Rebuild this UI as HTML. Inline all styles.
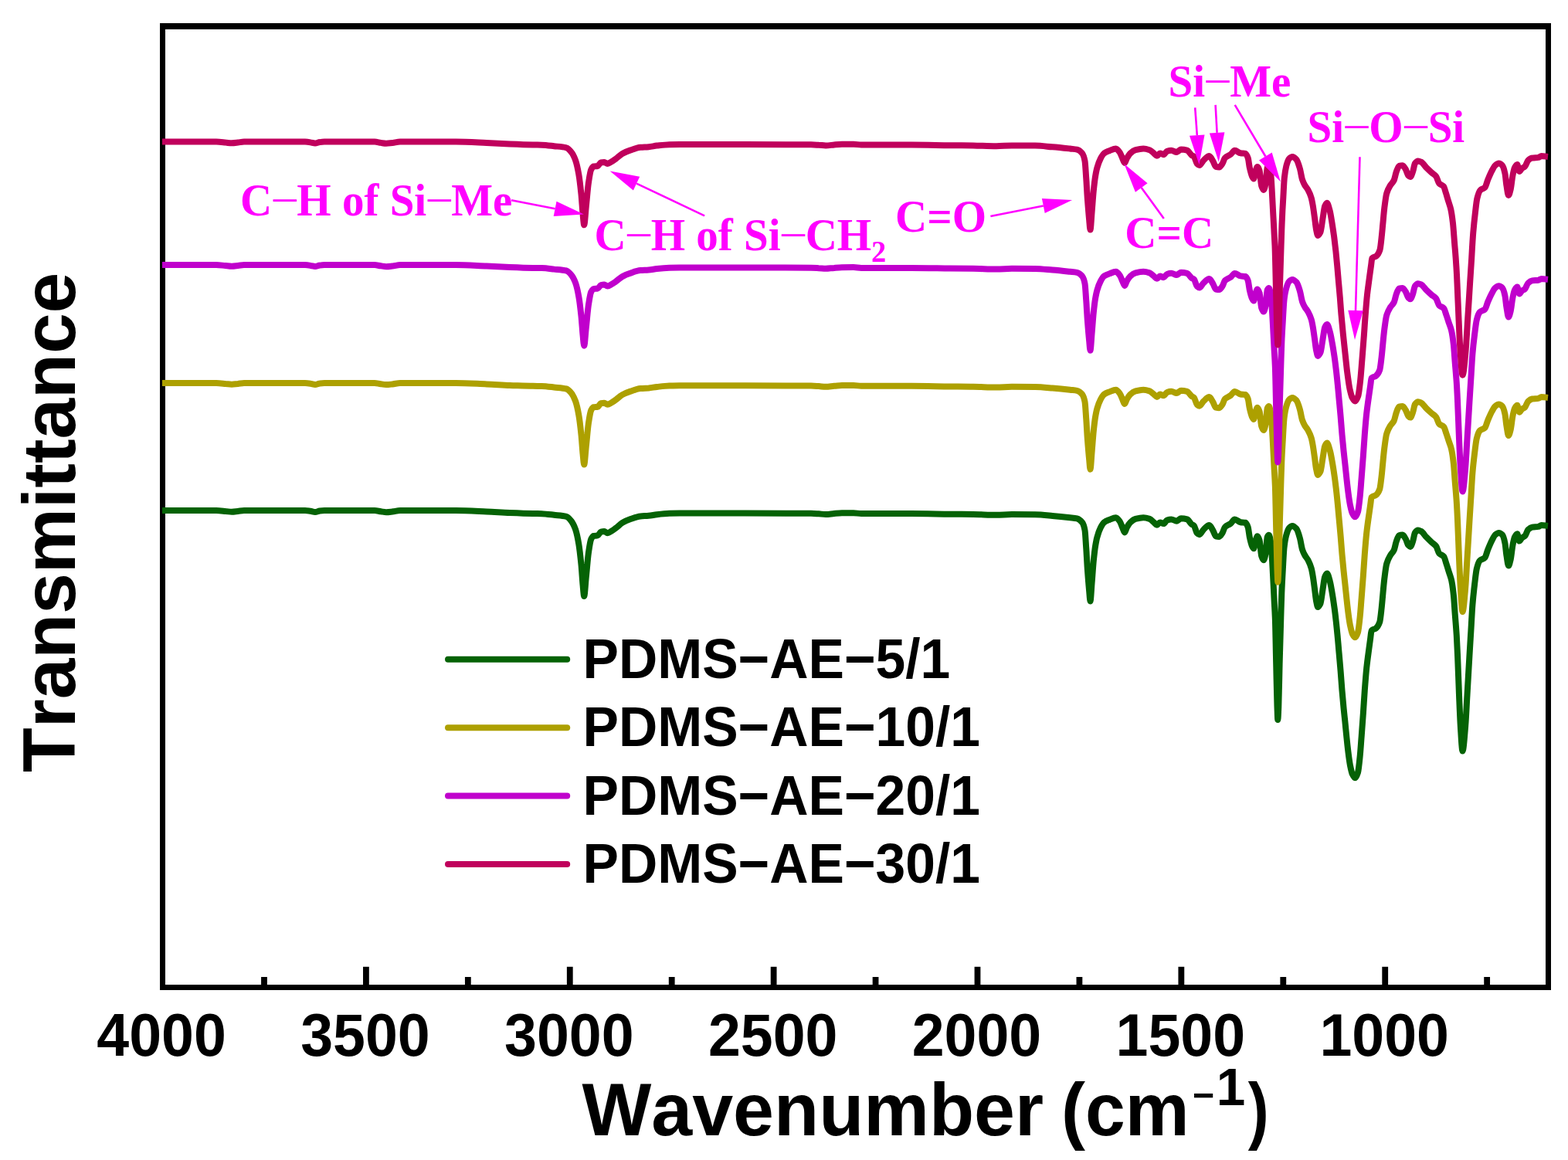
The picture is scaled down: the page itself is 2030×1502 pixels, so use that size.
<!DOCTYPE html>
<html lang="en"><head><meta charset="utf-8"><title>FTIR spectra of PDMS-AE</title>
<style>html,body{margin:0;padding:0;background:#fff}body{width:2030px;height:1502px;overflow:hidden}svg{display:block}</style>
</head><body>
<svg width="2030" height="1502" viewBox="0 0 2030 1502">
<rect x="0" y="0" width="2030" height="1502" fill="#fff"/>
<path fill="#000" fill-rule="evenodd" d="M207,30H2008V1282.1H207Z M214,38H2001V1275.1H214Z"/>
<g fill="#000">
<rect x="470.01" y="1251.8" width="7.8" height="25"/>
<rect x="733.87" y="1251.8" width="7.8" height="25"/>
<rect x="997.73" y="1251.8" width="7.8" height="25"/>
<rect x="1261.59" y="1251.8" width="7.8" height="25"/>
<rect x="1525.45" y="1251.8" width="7.8" height="25"/>
<rect x="1789.31" y="1251.8" width="7.8" height="25"/>
<rect x="338.08" y="1265" width="7.8" height="12"/>
<rect x="601.94" y="1265" width="7.8" height="12"/>
<rect x="865.80" y="1265" width="7.8" height="12"/>
<rect x="1129.66" y="1265" width="7.8" height="12"/>
<rect x="1393.52" y="1265" width="7.8" height="12"/>
<rect x="1657.38" y="1265" width="7.8" height="12"/>
<rect x="1921.24" y="1265" width="7.8" height="12"/>
</g>
<defs><clipPath id="clip"><rect x="210" y="34" width="1795.5" height="1244"/></clipPath></defs>
<g clip-path="url(#clip)" fill="none" stroke-width="8" stroke-linejoin="round" stroke-linecap="butt">
<path d="M210.0,661.0C233.3,661.0 256.7,661.0 280.0,661.0C284.0,661.0 288.0,661.6 292.0,662.0C294.7,662.2 297.3,662.8 300.0,662.8C302.7,662.8 305.3,662.3 308.0,662.0C310.7,661.7 313.3,661.0 316.0,661.0C342.3,661.0 368.7,661.0 395.0,661.0C397.3,661.0 399.7,661.5 402.0,661.8C404.0,662.1 406.0,663.0 408.0,663.0C410.0,663.0 412.0,661.8 414.0,661.5C416.0,661.2 418.0,661.0 420.0,661.0C441.7,661.0 463.3,661.0 485.0,661.0C487.7,661.0 490.3,661.9 493.0,662.3C495.3,662.6 497.7,663.2 500.0,663.2C502.7,663.2 505.3,662.8 508.0,662.5C511.3,662.1 514.7,661.0 518.0,661.0C542.0,661.0 566.0,661.0 590.0,661.0C603.3,661.0 616.7,661.9 630.0,662.5C640.0,662.9 650.0,663.6 660.0,664.0C670.0,664.4 680.0,664.8 690.0,665.0C693.8,665.1 697.5,665.1 701.3,665.2C706.6,665.4 712.0,666.2 717.3,666.8C722.6,667.4 728.0,667.5 733.3,668.9C735.4,669.4 737.6,672.1 739.7,674.8C741.5,677.1 743.2,680.5 745.0,685.4C746.4,689.4 747.9,696.1 749.3,704.6C750.4,710.9 751.4,720.3 752.5,731.2C753.2,738.3 753.9,750.7 754.6,757.9C755.1,763.4 755.7,772.0 756.2,772.0C757.1,772.0 757.9,755.7 758.8,747.2C759.9,736.8 760.9,722.6 762.0,715.2C763.1,707.8 764.1,700.5 765.2,698.2C766.3,695.9 767.3,694.1 768.4,693.9C770.2,693.6 772.0,693.7 773.8,693.4C775.2,693.2 776.6,688.9 778.0,688.6C779.4,688.3 780.9,688.1 782.3,688.1C783.7,688.1 785.1,690.2 786.5,690.2C788.3,690.2 790.1,688.5 791.9,687.5C793.7,686.5 795.4,685.1 797.2,683.8C800.0,681.7 802.9,678.6 805.7,676.9C809.3,674.8 812.8,673.4 816.4,672.1C820.7,670.6 824.9,668.8 829.2,668.4C832.7,668.1 836.3,668.1 839.8,667.8C843.4,667.5 846.9,666.6 850.5,666.2C855.8,665.6 861.2,665.0 866.5,664.8C871.0,664.6 875.5,664.5 880.0,664.5C936.7,664.5 993.3,664.5 1050.0,664.8C1053.3,664.8 1056.7,665.1 1060.0,665.3C1063.0,665.5 1066.0,666.0 1069.0,666.0C1072.7,666.0 1076.3,665.3 1080.0,665.0C1083.3,664.7 1086.7,664.3 1090.0,664.3C1095.0,664.2 1100.0,664.2 1105.0,664.2C1108.3,664.2 1111.7,665.0 1115.0,665.0C1136.7,665.0 1158.3,665.0 1180.0,665.0C1196.7,665.0 1213.3,665.5 1230.0,665.7C1240.0,665.8 1250.0,665.9 1260.0,666.0C1270.0,666.1 1280.0,666.8 1290.0,666.8C1296.7,666.8 1303.3,666.0 1310.0,666.0C1320.0,666.0 1330.0,666.1 1340.0,666.2C1347.5,666.3 1355.1,667.2 1362.6,667.9C1370.2,668.6 1377.7,669.4 1385.3,670.2C1388.3,670.5 1391.3,670.6 1394.3,671.3C1396.6,671.8 1398.8,673.5 1401.1,676.4C1402.2,677.9 1403.4,680.6 1404.5,686.6C1405.1,689.6 1405.6,700.8 1406.2,709.2C1406.8,717.6 1407.3,729.4 1407.9,737.5C1408.7,748.4 1409.4,757.5 1410.2,765.8C1410.6,770.5 1411.1,778.5 1411.5,778.5C1412.2,778.5 1412.9,763.0 1413.6,754.5C1414.3,745.6 1415.1,733.6 1415.8,726.2C1416.6,718.4 1417.3,711.8 1418.1,707.0C1418.9,702.2 1419.6,698.4 1420.4,695.6C1421.9,690.1 1423.4,686.1 1424.9,683.2C1426.4,680.3 1427.9,677.6 1429.4,676.4C1431.7,674.6 1433.9,673.9 1436.2,673.0C1439.0,671.9 1441.9,670.2 1444.7,670.2C1446.4,670.2 1448.1,672.9 1449.8,675.3C1450.9,676.9 1452.1,680.6 1453.2,683.2C1454.1,685.3 1455.1,689.4 1456.0,689.4C1456.9,689.4 1457.9,684.9 1458.8,683.2C1460.3,680.4 1461.9,677.8 1463.4,676.4C1465.6,674.3 1467.9,672.5 1470.1,671.9C1473.5,671.0 1476.9,670.2 1480.3,670.2C1483.0,670.2 1485.6,671.0 1488.3,671.9C1490.2,672.5 1492.0,674.9 1493.9,676.4C1495.2,677.5 1496.6,679.8 1497.9,679.8C1499.2,679.8 1500.5,676.4 1501.8,676.4C1503.3,676.4 1504.9,678.1 1506.4,678.1C1507.9,678.1 1509.4,674.1 1510.9,673.6C1512.8,672.9 1514.6,672.4 1516.5,672.4C1518.8,672.4 1521.0,674.7 1523.3,674.7C1525.2,674.7 1527.1,671.3 1529.0,671.3C1531.6,671.3 1534.3,671.7 1536.9,672.4C1538.8,672.9 1540.7,677.1 1542.6,678.7C1543.7,679.6 1544.9,679.8 1546.0,681.0C1547.2,682.3 1548.4,688.9 1549.6,690.1C1550.7,691.2 1551.7,692.2 1552.8,692.2C1554.6,692.2 1556.3,687.5 1558.1,685.8C1560.6,683.4 1563.1,680.0 1565.6,680.0C1567.2,680.0 1568.8,684.2 1570.4,686.9C1571.6,689.0 1572.9,694.0 1574.1,694.3C1575.5,694.7 1577.0,694.9 1578.4,694.9C1579.8,694.9 1581.2,692.3 1582.6,690.1C1583.7,688.4 1584.7,683.8 1585.8,682.6C1588.3,679.9 1590.8,679.8 1593.3,677.8C1595.1,676.4 1596.8,672.5 1598.6,672.5C1601.1,672.5 1603.6,675.8 1606.1,676.2C1608.2,676.5 1610.4,676.4 1612.5,676.8C1613.6,677.0 1614.6,679.5 1615.7,682.6C1616.4,684.6 1617.1,692.1 1617.8,695.4C1618.9,700.4 1619.9,704.9 1621.0,707.1C1621.7,708.6 1622.4,710.3 1623.1,710.3C1623.8,710.3 1624.5,704.1 1625.2,701.8C1626.1,698.8 1627.0,694.3 1627.9,694.3C1628.8,694.3 1629.7,696.8 1630.6,699.7C1631.5,702.5 1632.3,717.2 1633.2,719.9C1634.1,722.7 1635.0,725.2 1635.9,725.2C1636.8,725.2 1637.7,721.1 1638.6,716.7C1639.3,713.3 1640.0,697.0 1640.7,695.4C1641.4,693.8 1642.1,692.7 1642.8,692.7C1643.7,692.7 1644.6,697.9 1645.5,703.9C1646.2,708.6 1646.9,723.7 1647.6,735.9C1648.3,748.1 1649.0,764.7 1649.7,778.5C1650.1,785.7 1650.4,790.2 1650.8,799.8C1651.3,812.1 1651.7,840.1 1652.2,860.0C1652.6,878.5 1653.1,903.1 1653.5,915.0C1653.8,922.4 1654.0,932.0 1654.3,932.0C1654.6,932.0 1655.0,922.9 1655.3,915.0C1655.7,904.7 1656.2,876.8 1656.6,860.0C1657.2,838.1 1657.7,818.7 1658.3,799.8C1658.6,788.7 1659.0,776.2 1659.3,767.9C1659.8,754.6 1660.4,745.6 1660.9,735.9C1661.4,726.2 1662.0,714.2 1662.5,709.3C1663.4,701.1 1664.3,696.6 1665.2,693.3C1666.4,688.8 1667.7,685.0 1668.9,683.7C1670.3,682.2 1671.8,681.0 1673.2,681.0C1675.0,681.0 1676.7,682.8 1678.5,684.8C1679.9,686.5 1681.4,691.5 1682.8,696.5C1683.9,700.2 1684.9,708.1 1686.0,711.4C1687.1,714.7 1688.1,716.8 1689.2,718.8C1690.6,721.4 1692.0,722.6 1693.4,725.2C1694.8,727.9 1696.3,730.9 1697.7,735.9C1698.4,738.3 1699.1,742.4 1699.8,746.6C1700.5,751.0 1701.3,757.1 1702.0,762.5C1702.7,767.7 1703.4,775.1 1704.1,778.5C1704.8,781.9 1705.5,786.0 1706.2,786.0C1707.3,786.0 1708.3,784.0 1709.4,781.7C1710.5,779.4 1711.5,768.9 1712.6,762.5C1713.5,757.3 1714.3,748.9 1715.2,746.8C1716.1,744.5 1717.1,742.5 1718.0,742.5C1719.3,742.5 1720.6,748.4 1721.9,753.2C1722.9,756.8 1723.8,762.9 1724.8,768.6C1725.8,774.3 1726.7,780.7 1727.7,787.9C1728.5,793.6 1729.2,800.1 1730.0,807.2C1730.6,813.0 1731.3,819.7 1731.9,826.5C1732.5,832.6 1733.0,839.4 1733.6,845.9C1734.3,853.6 1734.9,860.8 1735.6,869.0C1736.2,876.8 1736.9,886.5 1737.5,894.1C1738.2,902.5 1738.9,910.1 1739.6,917.3C1740.2,923.5 1740.8,928.8 1741.4,934.7C1742.1,941.6 1742.8,949.2 1743.5,955.9C1744.1,962.0 1744.8,968.3 1745.4,973.3C1746.2,979.9 1747.1,986.4 1747.9,990.7C1748.9,995.6 1749.8,1000.2 1750.8,1002.3C1752.0,1004.8 1753.1,1007.3 1754.3,1007.3C1755.5,1007.3 1756.8,1004.2 1758.0,1000.3C1758.8,997.7 1759.7,989.0 1760.5,981.0C1761.3,973.6 1762.0,962.1 1762.8,952.0C1763.5,942.8 1764.2,933.2 1764.9,923.1C1765.5,913.9 1766.2,902.7 1766.8,894.1C1767.6,883.3 1768.4,872.9 1769.2,865.2C1770.2,855.8 1771.1,849.4 1772.1,842.0C1772.8,836.6 1773.5,831.6 1774.2,826.5C1774.7,823.1 1775.1,817.0 1775.6,816.5C1777.5,814.3 1779.4,815.1 1781.3,813.6C1782.9,812.3 1784.6,810.2 1786.2,805.5C1787.0,803.2 1787.8,794.9 1788.6,787.9C1789.2,782.6 1789.8,774.9 1790.4,768.6C1791.0,762.0 1791.7,754.5 1792.3,749.3C1793.3,741.4 1794.2,733.4 1795.2,730.0C1796.8,724.4 1798.3,721.9 1799.9,719.2C1801.5,716.5 1803.0,715.9 1804.6,712.6C1805.7,710.3 1806.8,703.6 1807.9,700.6C1809.0,697.5 1810.2,693.6 1811.3,693.3C1812.8,692.8 1814.4,692.6 1815.9,692.6C1817.2,692.6 1818.6,695.6 1819.9,697.9C1821.0,699.8 1822.1,704.7 1823.2,705.9C1824.1,706.9 1825.0,707.9 1825.9,707.9C1827.0,707.9 1828.1,703.8 1829.2,700.6C1830.1,698.0 1831.0,691.2 1831.9,689.9C1833.2,688.0 1834.6,686.6 1835.9,686.6C1837.2,686.6 1838.6,687.3 1839.9,687.9C1842.1,689.0 1844.3,693.0 1846.5,695.3C1848.7,697.6 1851.0,699.8 1853.2,701.9C1855.2,703.8 1857.2,704.6 1859.2,707.2C1860.5,709.0 1861.9,715.2 1863.2,716.6C1865.2,718.8 1867.2,718.3 1869.2,720.6C1870.3,721.9 1871.4,726.6 1872.5,729.9C1873.6,733.2 1874.7,737.0 1875.8,740.5C1876.9,744.0 1878.0,746.3 1879.1,751.2C1880.0,755.2 1880.9,761.5 1881.8,769.8C1882.5,775.9 1883.1,787.5 1883.8,796.4C1884.5,805.3 1885.1,812.2 1885.8,823.1C1886.2,830.2 1886.7,839.8 1887.1,849.7C1887.7,864.2 1888.4,884.8 1889.0,900.0C1889.6,914.4 1890.2,930.1 1890.8,939.7C1891.7,954.1 1892.6,972.5 1893.5,972.5C1894.7,972.5 1896.0,954.5 1897.2,939.7C1898.0,930.5 1898.7,913.3 1899.5,900.0C1900.5,883.3 1901.4,866.1 1902.4,849.7C1903.1,838.4 1903.7,827.5 1904.4,816.4C1905.1,805.3 1905.7,791.5 1906.4,783.1C1907.3,771.8 1908.2,764.1 1909.1,756.5C1910.0,748.9 1910.9,740.1 1911.8,736.5C1913.1,731.1 1914.5,727.3 1915.8,725.9C1918.0,723.6 1920.2,724.2 1922.4,721.9C1923.7,720.5 1925.1,714.5 1926.4,711.2C1928.2,706.9 1929.9,702.7 1931.7,699.3C1933.0,696.8 1934.4,693.8 1935.7,692.6C1937.3,691.2 1938.8,689.9 1940.4,689.9C1941.9,689.9 1943.5,691.0 1945.0,692.6C1946.1,693.8 1947.3,697.9 1948.4,703.2C1949.1,706.3 1949.7,715.0 1950.4,719.2C1951.3,724.7 1952.1,732.5 1953.0,732.5C1953.9,732.5 1954.8,728.2 1955.7,724.5C1956.6,720.8 1957.5,710.5 1958.4,705.9C1959.3,701.5 1960.1,697.0 1961.0,695.3C1962.1,693.2 1963.2,691.3 1964.3,691.3C1965.2,691.3 1966.1,700.6 1967.0,700.6C1968.1,700.6 1969.2,697.6 1970.3,696.6C1971.6,695.4 1973.0,695.2 1974.3,693.9C1975.6,692.6 1977.0,687.2 1978.3,685.9C1980.1,684.2 1981.8,682.9 1983.6,682.6C1986.3,682.2 1988.9,682.3 1991.6,681.9C1992.9,681.7 1994.3,679.9 1995.6,679.9C1998.4,679.9 2001.2,680.6 2004.0,680.9" stroke="#056205"/>
<path d="M210.0,496.0C233.3,496.0 256.7,496.0 280.0,496.0C284.0,496.0 288.0,496.6 292.0,497.0C294.7,497.2 297.3,497.7 300.0,497.7C302.7,497.7 305.3,497.2 308.0,497.0C310.7,496.7 313.3,496.0 316.0,496.0C342.3,496.0 368.7,496.0 395.0,496.0C397.3,496.0 399.7,496.4 402.0,496.8C404.0,497.0 406.0,497.9 408.0,497.9C410.0,497.9 412.0,496.7 414.0,496.5C416.0,496.2 418.0,496.0 420.0,496.0C441.7,496.0 463.3,496.0 485.0,496.0C487.7,496.0 490.3,496.9 493.0,497.2C495.3,497.6 497.7,498.1 500.0,498.1C502.7,498.1 505.3,497.7 508.0,497.4C511.3,497.1 514.7,496.0 518.0,496.0C542.0,496.0 566.0,496.0 590.0,496.0C603.3,496.0 616.7,496.9 630.0,497.4C640.0,497.8 650.0,498.5 660.0,498.9C670.0,499.2 680.0,499.6 690.0,499.8C693.8,499.9 697.5,499.9 701.3,500.0C706.6,500.1 712.0,500.9 717.3,501.5C722.6,502.1 728.0,502.2 733.3,503.5C735.4,504.0 737.6,506.5 739.7,509.1C741.5,511.3 743.2,514.5 745.0,519.2C746.4,523.0 747.9,529.4 749.3,537.5C750.4,543.4 751.4,552.4 752.5,562.8C753.2,569.6 753.9,581.3 754.6,588.2C755.1,593.4 755.7,601.6 756.2,601.6C757.1,601.6 757.9,586.0 758.8,578.0C759.9,568.1 760.9,554.6 762.0,547.5C763.1,540.5 764.1,533.6 765.2,531.4C766.3,529.2 767.3,527.5 768.4,527.3C770.2,527.0 772.0,527.1 773.8,526.8C775.2,526.6 776.6,522.5 778.0,522.2C779.4,522.0 780.9,521.8 782.3,521.8C783.7,521.8 785.1,523.8 786.5,523.8C788.3,523.8 790.1,522.2 791.9,521.2C793.7,520.2 795.4,518.9 797.2,517.7C800.0,515.7 802.9,512.7 805.7,511.1C809.3,509.1 812.8,507.8 816.4,506.6C820.7,505.1 824.9,503.4 829.2,503.0C832.7,502.7 836.3,502.7 839.8,502.5C843.4,502.2 846.9,501.3 850.5,500.9C855.8,500.4 861.2,499.8 866.5,499.6C871.0,499.5 875.5,499.3 880.0,499.3C936.7,499.3 993.3,499.4 1050.0,499.6C1053.3,499.6 1056.7,499.9 1060.0,500.1C1063.0,500.3 1066.0,500.8 1069.0,500.8C1072.7,500.8 1076.3,500.1 1080.0,499.8C1083.3,499.6 1086.7,499.2 1090.0,499.1C1095.0,499.1 1100.0,499.0 1105.0,499.0C1108.3,499.0 1111.7,499.8 1115.0,499.8C1136.7,499.8 1158.3,499.8 1180.0,499.8C1196.7,499.8 1213.3,500.3 1230.0,500.5C1240.0,500.6 1250.0,500.6 1260.0,500.8C1270.0,500.9 1280.0,501.5 1290.0,501.5C1296.7,501.5 1303.3,500.8 1310.0,500.8C1320.0,500.8 1330.0,500.8 1340.0,500.9C1347.5,501.0 1355.1,501.9 1362.6,502.6C1370.2,503.2 1377.7,503.9 1385.3,504.7C1388.3,505.1 1391.3,505.2 1394.3,505.8C1396.6,506.3 1398.8,507.9 1401.1,510.6C1402.2,512.0 1403.4,514.7 1404.5,520.3C1405.1,523.2 1405.6,533.9 1406.2,541.8C1406.8,549.8 1407.3,561.1 1407.9,568.8C1408.7,579.1 1409.4,587.8 1410.2,595.7C1410.6,600.1 1411.1,607.7 1411.5,607.7C1412.2,607.7 1412.9,593.0 1413.6,584.9C1414.3,576.5 1415.1,565.1 1415.8,558.0C1416.6,550.6 1417.3,544.3 1418.1,539.7C1418.9,535.2 1419.6,531.6 1420.4,528.9C1421.9,523.7 1423.4,519.9 1424.9,517.1C1426.4,514.3 1427.9,511.8 1429.4,510.6C1431.7,509.0 1433.9,508.3 1436.2,507.4C1439.0,506.3 1441.9,504.7 1444.7,504.7C1446.4,504.7 1448.1,507.3 1449.8,509.6C1450.9,511.1 1452.1,514.7 1453.2,517.1C1454.1,519.1 1455.1,523.0 1456.0,523.0C1456.9,523.0 1457.9,518.7 1458.8,517.1C1460.3,514.5 1461.9,512.0 1463.4,510.6C1465.6,508.6 1467.9,507.0 1470.1,506.4C1473.5,505.5 1476.9,504.7 1480.3,504.7C1483.0,504.7 1485.6,505.5 1488.3,506.4C1490.2,507.0 1492.0,509.2 1493.9,510.6C1495.2,511.7 1496.6,513.9 1497.9,513.9C1499.2,513.9 1500.5,510.6 1501.8,510.6C1503.3,510.6 1504.9,512.3 1506.4,512.3C1507.9,512.3 1509.4,508.5 1510.9,508.0C1512.8,507.3 1514.6,506.8 1516.5,506.8C1518.8,506.8 1521.0,509.0 1523.3,509.0C1525.2,509.0 1527.1,505.8 1529.0,505.8C1531.6,505.8 1534.3,506.2 1536.9,506.8C1538.8,507.3 1540.7,511.3 1542.6,512.8C1543.7,513.7 1544.9,513.9 1546.0,515.0C1547.2,516.2 1548.4,522.5 1549.6,523.7C1550.7,524.7 1551.7,525.7 1552.8,525.7C1554.6,525.7 1556.3,521.2 1558.1,519.6C1560.6,517.3 1563.1,514.1 1565.6,514.1C1567.2,514.1 1568.8,518.1 1570.4,520.6C1571.6,522.6 1572.9,527.4 1574.1,527.7C1575.5,528.0 1577.0,528.2 1578.4,528.2C1579.8,528.2 1581.2,525.8 1582.6,523.7C1583.7,522.1 1584.7,517.6 1585.8,516.5C1588.3,514.0 1590.8,513.9 1593.3,512.0C1595.1,510.6 1596.8,506.9 1598.6,506.9C1601.1,506.9 1603.6,510.1 1606.1,510.5C1608.2,510.8 1610.4,510.6 1612.5,511.0C1613.6,511.2 1614.6,513.6 1615.7,516.5C1616.4,518.5 1617.1,525.6 1617.8,528.7C1618.9,533.4 1619.9,537.7 1621.0,539.8C1621.7,541.2 1622.4,542.9 1623.1,542.9C1623.8,542.9 1624.5,537.0 1625.2,534.8C1626.1,532.0 1627.0,527.7 1627.9,527.7C1628.8,527.7 1629.7,530.1 1630.6,532.8C1631.5,535.4 1632.3,549.4 1633.2,552.0C1634.1,554.7 1635.0,557.1 1635.9,557.1C1636.8,557.1 1637.7,553.2 1638.6,549.0C1639.3,545.7 1640.0,530.2 1640.7,528.7C1641.4,527.2 1642.1,526.1 1642.8,526.1C1643.7,526.1 1644.6,531.1 1645.5,536.8C1646.2,541.2 1646.9,555.6 1647.6,567.2C1648.3,578.8 1649.0,594.6 1649.7,607.7C1650.1,614.6 1650.4,618.8 1650.8,628.0C1651.3,639.7 1651.7,666.3 1652.2,685.2C1652.6,702.8 1653.1,726.2 1653.5,737.6C1653.8,744.5 1654.0,753.7 1654.3,753.7C1654.6,753.7 1655.0,745.1 1655.3,737.6C1655.7,727.7 1656.2,701.2 1656.6,685.2C1657.2,664.4 1657.7,646.0 1658.3,628.0C1658.6,617.4 1659.0,605.6 1659.3,597.7C1659.8,585.0 1660.4,576.4 1660.9,567.2C1661.4,558.0 1662.0,546.6 1662.5,541.9C1663.4,534.1 1664.3,529.9 1665.2,526.7C1666.4,522.4 1667.7,518.8 1668.9,517.6C1670.3,516.2 1671.8,515.0 1673.2,515.0C1675.0,515.0 1676.7,516.7 1678.5,518.6C1679.9,520.2 1681.4,525.0 1682.8,529.8C1683.9,533.3 1684.9,540.8 1686.0,543.9C1687.1,547.1 1688.1,549.1 1689.2,551.0C1690.6,553.4 1692.0,554.5 1693.4,557.1C1694.8,559.6 1696.3,562.5 1697.7,567.2C1698.4,569.5 1699.1,573.4 1699.8,577.4C1700.5,581.6 1701.3,587.4 1702.0,592.5C1702.7,597.5 1703.4,604.5 1704.1,607.7C1704.8,611.0 1705.5,614.9 1706.2,614.9C1707.3,614.9 1708.3,613.0 1709.4,610.8C1710.5,608.6 1711.5,598.6 1712.6,592.5C1713.5,587.6 1714.3,579.6 1715.2,577.6C1716.1,575.4 1717.1,573.5 1718.0,573.5C1719.3,573.5 1720.6,579.1 1721.9,583.7C1722.9,587.1 1723.8,592.9 1724.8,598.3C1725.8,603.8 1726.7,609.8 1727.7,616.7C1728.5,622.1 1729.2,628.3 1730.0,635.0C1730.6,640.6 1731.3,646.9 1731.9,653.4C1732.5,659.2 1733.0,665.7 1733.6,671.8C1734.3,679.1 1734.9,686.0 1735.6,693.8C1736.2,701.2 1736.9,710.4 1737.5,717.7C1738.2,725.7 1738.9,732.9 1739.6,739.7C1740.2,745.6 1740.8,750.7 1741.4,756.3C1742.1,762.9 1742.8,770.1 1743.5,776.4C1744.1,782.2 1744.8,788.2 1745.4,793.0C1746.2,799.3 1747.1,805.5 1747.9,809.5C1748.9,814.2 1749.8,818.6 1750.8,820.6C1752.0,822.9 1753.1,825.3 1754.3,825.3C1755.5,825.3 1756.8,822.4 1758.0,818.7C1758.8,816.2 1759.7,807.9 1760.5,800.3C1761.3,793.3 1762.0,782.3 1762.8,772.7C1763.5,764.0 1764.2,754.9 1764.9,745.3C1765.5,736.5 1766.2,725.8 1766.8,717.7C1767.6,707.4 1768.4,697.6 1769.2,690.2C1770.2,681.3 1771.1,675.2 1772.1,668.1C1772.8,663.0 1773.5,658.2 1774.2,653.4C1774.7,650.2 1775.1,644.4 1775.6,643.9C1777.5,641.8 1779.4,642.5 1781.3,641.1C1782.9,639.9 1784.6,637.9 1786.2,633.4C1787.0,631.2 1787.8,623.4 1788.6,616.7C1789.2,611.7 1789.8,604.3 1790.4,598.3C1791.0,592.0 1791.7,584.9 1792.3,580.0C1793.3,572.5 1794.2,564.9 1795.2,561.6C1796.8,556.3 1798.3,553.9 1799.9,551.3C1801.5,548.8 1803.0,548.2 1804.6,545.1C1805.7,542.9 1806.8,536.5 1807.9,533.7C1809.0,530.7 1810.2,527.0 1811.3,526.7C1812.8,526.3 1814.4,526.1 1815.9,526.1C1817.2,526.1 1818.6,528.9 1819.9,531.1C1821.0,532.9 1822.1,537.5 1823.2,538.7C1824.1,539.7 1825.0,540.6 1825.9,540.6C1827.0,540.6 1828.1,536.7 1829.2,533.7C1830.1,531.2 1831.0,524.7 1831.9,523.5C1833.2,521.7 1834.6,520.3 1835.9,520.3C1837.2,520.3 1838.6,521.0 1839.9,521.6C1842.1,522.6 1844.3,526.4 1846.5,528.6C1848.7,530.8 1851.0,532.9 1853.2,534.9C1855.2,536.7 1857.2,537.4 1859.2,539.9C1860.5,541.6 1861.9,547.5 1863.2,548.9C1865.2,550.9 1867.2,550.5 1869.2,552.7C1870.3,553.9 1871.4,558.4 1872.5,561.5C1873.6,564.7 1874.7,568.2 1875.8,571.6C1876.9,575.0 1878.0,577.1 1879.1,581.8C1880.0,585.6 1880.9,591.6 1881.8,599.5C1882.5,605.3 1883.1,616.3 1883.8,624.8C1884.5,633.2 1885.1,639.8 1885.8,650.2C1886.2,656.9 1886.7,666.0 1887.1,675.5C1887.7,689.2 1888.4,708.8 1889.0,723.3C1889.6,737.0 1890.2,751.9 1890.8,761.0C1891.7,774.7 1892.6,792.2 1893.5,792.2C1894.7,792.2 1896.0,775.1 1897.2,761.0C1898.0,752.3 1898.7,735.9 1899.5,723.3C1900.5,707.4 1901.4,691.1 1902.4,675.5C1903.1,664.7 1903.7,654.3 1904.4,643.8C1905.1,633.2 1905.7,620.1 1906.4,612.1C1907.3,601.4 1908.2,594.1 1909.1,586.8C1910.0,579.6 1910.9,571.2 1911.8,567.8C1913.1,562.7 1914.5,559.0 1915.8,557.7C1918.0,555.5 1920.2,556.1 1922.4,553.9C1923.7,552.6 1925.1,546.8 1926.4,543.7C1928.2,539.6 1929.9,535.6 1931.7,532.4C1933.0,530.0 1934.4,527.2 1935.7,526.1C1937.3,524.8 1938.8,523.5 1940.4,523.5C1941.9,523.5 1943.5,524.6 1945.0,526.1C1946.1,527.2 1947.3,531.1 1948.4,536.1C1949.1,539.1 1949.7,547.4 1950.4,551.3C1951.3,556.5 1952.1,564.0 1953.0,564.0C1953.9,564.0 1954.8,559.9 1955.7,556.4C1956.6,552.8 1957.5,543.1 1958.4,538.7C1959.3,534.5 1960.1,530.2 1961.0,528.6C1962.1,526.6 1963.2,524.8 1964.3,524.8C1965.2,524.8 1966.1,533.7 1967.0,533.7C1968.1,533.7 1969.2,530.8 1970.3,529.9C1971.6,528.7 1973.0,528.6 1974.3,527.3C1975.6,526.0 1977.0,520.9 1978.3,519.7C1980.1,518.0 1981.8,516.8 1983.6,516.5C1986.3,516.1 1988.9,516.3 1991.6,515.9C1992.9,515.7 1994.3,514.0 1995.6,514.0C1998.4,514.0 2001.2,514.6 2004.0,514.9" stroke="#ada000"/>
<path d="M210.0,343.1C233.3,343.1 256.7,343.1 280.0,343.1C284.0,343.1 288.0,343.7 292.0,344.0C294.7,344.3 297.3,344.8 300.0,344.8C302.7,344.8 305.3,344.3 308.0,344.0C310.7,343.8 313.3,343.1 316.0,343.1C342.3,343.1 368.7,343.1 395.0,343.1C397.3,343.1 399.7,343.5 402.0,343.9C404.0,344.1 406.0,345.0 408.0,345.0C410.0,345.0 412.0,343.8 414.0,343.6C416.0,343.3 418.0,343.1 420.0,343.1C441.7,343.1 463.3,343.1 485.0,343.1C487.7,343.1 490.3,344.0 493.0,344.3C495.3,344.6 497.7,345.2 500.0,345.2C502.7,345.2 505.3,344.8 508.0,344.5C511.3,344.2 514.7,343.1 518.0,343.1C542.0,343.1 566.0,343.1 590.0,343.1C603.3,343.1 616.7,344.0 630.0,344.5C640.0,344.9 650.0,345.5 660.0,345.9C670.0,346.3 680.0,346.7 690.0,346.9C693.8,346.9 697.5,347.0 701.3,347.1C706.6,347.2 712.0,348.0 717.3,348.6C722.6,349.1 728.0,349.2 733.3,350.5C735.4,351.1 737.6,353.5 739.7,356.1C741.5,358.2 743.2,361.4 745.0,366.1C746.4,369.9 747.9,376.2 749.3,384.2C750.4,390.1 751.4,399.0 752.5,409.2C753.2,416.0 753.9,427.6 754.6,434.4C755.1,439.6 755.7,447.7 756.2,447.7C757.1,447.7 757.9,432.3 758.8,424.3C759.9,414.5 760.9,401.1 762.0,394.2C763.1,387.2 764.1,380.3 765.2,378.1C766.3,376.0 767.3,374.3 768.4,374.1C770.2,373.8 772.0,373.9 773.8,373.6C775.2,373.4 776.6,369.4 778.0,369.1C779.4,368.8 780.9,368.6 782.3,368.6C783.7,368.6 785.1,370.6 786.5,370.6C788.3,370.6 790.1,369.1 791.9,368.1C793.7,367.1 795.4,365.8 797.2,364.6C800.0,362.6 802.9,359.6 805.7,358.1C809.3,356.1 812.8,354.7 816.4,353.6C820.7,352.1 824.9,350.4 829.2,350.1C832.7,349.8 836.3,349.8 839.8,349.5C843.4,349.2 846.9,348.4 850.5,348.0C855.8,347.4 861.2,346.9 866.5,346.7C871.0,346.5 875.5,346.4 880.0,346.4C936.7,346.4 993.3,346.4 1050.0,346.7C1053.3,346.7 1056.7,347.0 1060.0,347.2C1063.0,347.3 1066.0,347.8 1069.0,347.8C1072.7,347.8 1076.3,347.1 1080.0,346.9C1083.3,346.6 1086.7,346.2 1090.0,346.2C1095.0,346.1 1100.0,346.1 1105.0,346.1C1108.3,346.1 1111.7,346.9 1115.0,346.9C1136.7,346.9 1158.3,346.9 1180.0,346.9C1196.7,346.9 1213.3,347.3 1230.0,347.5C1240.0,347.6 1250.0,347.7 1260.0,347.8C1270.0,347.9 1280.0,348.6 1290.0,348.6C1296.7,348.6 1303.3,347.8 1310.0,347.8C1320.0,347.8 1330.0,347.9 1340.0,348.0C1347.5,348.1 1355.1,349.0 1362.6,349.6C1370.2,350.2 1377.7,351.0 1385.3,351.8C1388.3,352.1 1391.3,352.2 1394.3,352.8C1396.6,353.3 1398.8,354.9 1401.1,357.6C1402.2,359.0 1403.4,361.6 1404.5,367.2C1405.1,370.0 1405.6,380.6 1406.2,388.5C1406.8,396.4 1407.3,407.6 1407.9,415.2C1408.7,425.5 1409.4,434.0 1410.2,441.8C1410.6,446.2 1411.1,453.8 1411.5,453.8C1412.2,453.8 1412.9,439.2 1413.6,431.2C1414.3,422.8 1415.1,411.5 1415.8,404.5C1416.6,397.2 1417.3,390.9 1418.1,386.4C1418.9,381.9 1419.6,378.3 1420.4,375.7C1421.9,370.5 1423.4,366.8 1424.9,364.0C1426.4,361.3 1427.9,358.7 1429.4,357.6C1431.7,355.9 1433.9,355.3 1436.2,354.4C1439.0,353.3 1441.9,351.8 1444.7,351.8C1446.4,351.8 1448.1,354.3 1449.8,356.6C1450.9,358.1 1452.1,361.6 1453.2,364.0C1454.1,366.0 1455.1,369.9 1456.0,369.9C1456.9,369.9 1457.9,365.6 1458.8,364.0C1460.3,361.4 1461.9,359.0 1463.4,357.6C1465.6,355.6 1467.9,354.0 1470.1,353.4C1473.5,352.5 1476.9,351.8 1480.3,351.8C1483.0,351.8 1485.6,352.5 1488.3,353.4C1490.2,354.0 1492.0,356.2 1493.9,357.6C1495.2,358.6 1496.6,360.8 1497.9,360.8C1499.2,360.8 1500.5,357.6 1501.8,357.6C1503.3,357.6 1504.9,359.2 1506.4,359.2C1507.9,359.2 1509.4,355.5 1510.9,355.0C1512.8,354.3 1514.6,353.8 1516.5,353.8C1518.8,353.8 1521.0,356.0 1523.3,356.0C1525.2,356.0 1527.1,352.8 1529.0,352.8C1531.6,352.8 1534.3,353.2 1536.9,353.8C1538.8,354.3 1540.7,358.3 1542.6,359.8C1543.7,360.7 1544.9,360.8 1546.0,361.9C1547.2,363.1 1548.4,369.3 1549.6,370.5C1550.7,371.5 1551.7,372.5 1552.8,372.5C1554.6,372.5 1556.3,368.1 1558.1,366.5C1560.6,364.2 1563.1,361.0 1565.6,361.0C1567.2,361.0 1568.8,365.0 1570.4,367.5C1571.6,369.5 1572.9,374.2 1574.1,374.5C1575.5,374.8 1577.0,375.0 1578.4,375.0C1579.8,375.0 1581.2,372.6 1582.6,370.5C1583.7,368.9 1584.7,364.5 1585.8,363.4C1588.3,360.9 1590.8,360.8 1593.3,358.9C1595.1,357.6 1596.8,353.9 1598.6,353.9C1601.1,353.9 1603.6,357.1 1606.1,357.4C1608.2,357.7 1610.4,357.6 1612.5,358.0C1613.6,358.2 1614.6,360.5 1615.7,363.4C1616.4,365.4 1617.1,372.4 1617.8,375.5C1618.9,380.2 1619.9,384.4 1621.0,386.5C1621.7,387.9 1622.4,389.5 1623.1,389.5C1623.8,389.5 1624.5,383.7 1625.2,381.5C1626.1,378.7 1627.0,374.5 1627.9,374.5C1628.8,374.5 1629.7,376.8 1630.6,379.6C1631.5,382.2 1632.3,396.0 1633.2,398.6C1634.1,401.3 1635.0,403.6 1635.9,403.6C1636.8,403.6 1637.7,399.7 1638.6,395.6C1639.3,392.3 1640.0,377.0 1640.7,375.5C1641.4,374.0 1642.1,373.0 1642.8,373.0C1643.7,373.0 1644.6,377.8 1645.5,383.5C1646.2,387.9 1646.9,402.2 1647.6,413.7C1648.3,425.1 1649.0,440.8 1649.7,453.8C1650.1,460.6 1650.4,464.8 1650.8,473.8C1651.3,485.4 1651.7,511.8 1652.2,530.6C1652.6,548.0 1653.1,571.1 1653.5,582.4C1653.8,589.3 1654.0,598.4 1654.3,598.4C1654.6,598.4 1655.0,589.8 1655.3,582.4C1655.7,572.6 1656.2,546.4 1656.6,530.6C1657.2,509.9 1657.7,491.7 1658.3,473.8C1658.6,463.4 1659.0,451.7 1659.3,443.8C1659.8,431.2 1660.4,422.8 1660.9,413.7C1661.4,404.5 1662.0,393.2 1662.5,388.6C1663.4,380.9 1664.3,376.6 1665.2,373.5C1666.4,369.2 1667.7,365.7 1668.9,364.5C1670.3,363.1 1671.8,361.9 1673.2,361.9C1675.0,361.9 1676.7,363.6 1678.5,365.5C1679.9,367.1 1681.4,371.8 1682.8,376.5C1683.9,380.0 1684.9,387.5 1686.0,390.6C1687.1,393.7 1688.1,395.7 1689.2,397.5C1690.6,400.0 1692.0,401.1 1693.4,403.6C1694.8,406.1 1696.3,409.0 1697.7,413.7C1698.4,416.0 1699.1,419.8 1699.8,423.7C1700.5,427.9 1701.3,433.6 1702.0,438.7C1702.7,443.6 1703.4,450.6 1704.1,453.8C1704.8,457.0 1705.5,460.9 1706.2,460.9C1707.3,460.9 1708.3,459.0 1709.4,456.8C1710.5,454.6 1711.5,444.8 1712.6,438.7C1713.5,433.8 1714.3,425.9 1715.2,423.9C1716.1,421.8 1717.1,419.9 1718.0,419.9C1719.3,419.9 1720.6,425.5 1721.9,430.0C1722.9,433.3 1723.8,439.1 1724.8,444.5C1725.8,449.8 1726.7,455.9 1727.7,462.6C1728.5,468.0 1729.2,474.2 1730.0,480.8C1730.6,486.3 1731.3,492.6 1731.9,499.0C1732.5,504.7 1733.0,511.1 1733.6,517.3C1734.3,524.5 1734.9,531.3 1735.6,539.0C1736.2,546.4 1736.9,555.5 1737.5,562.7C1738.2,570.6 1738.9,577.7 1739.6,584.5C1740.2,590.4 1740.8,595.3 1741.4,600.9C1742.1,607.4 1742.8,614.6 1743.5,620.9C1744.1,626.6 1744.8,632.5 1745.4,637.3C1746.2,643.5 1747.1,649.7 1747.9,653.7C1748.9,658.3 1749.8,662.7 1750.8,664.6C1752.0,667.0 1753.1,669.3 1754.3,669.3C1755.5,669.3 1756.8,666.4 1758.0,662.7C1758.8,660.2 1759.7,652.1 1760.5,644.5C1761.3,637.6 1762.0,626.7 1762.8,617.2C1763.5,608.5 1764.2,599.6 1764.9,590.0C1765.5,581.4 1766.2,570.7 1766.8,562.7C1767.6,552.5 1768.4,542.7 1769.2,535.5C1770.2,526.6 1771.1,520.6 1772.1,513.6C1772.8,508.5 1773.5,503.8 1774.2,499.0C1774.7,495.8 1775.1,490.1 1775.6,489.6C1777.5,487.5 1779.4,488.3 1781.3,486.8C1782.9,485.6 1784.6,483.7 1786.2,479.2C1787.0,477.0 1787.8,469.3 1788.6,462.6C1789.2,457.7 1789.8,450.4 1790.4,444.5C1791.0,438.2 1791.7,431.1 1792.3,426.3C1793.3,418.8 1794.2,411.3 1795.2,408.1C1796.8,402.9 1798.3,400.5 1799.9,397.9C1801.5,395.4 1803.0,394.8 1804.6,391.7C1805.7,389.6 1806.8,383.2 1807.9,380.4C1809.0,377.5 1810.2,373.8 1811.3,373.5C1812.8,373.1 1814.4,372.9 1815.9,372.9C1817.2,372.9 1818.6,375.7 1819.9,377.9C1821.0,379.7 1822.1,384.2 1823.2,385.4C1824.1,386.3 1825.0,387.3 1825.9,387.3C1827.0,387.3 1828.1,383.4 1829.2,380.4C1830.1,378.0 1831.0,371.5 1831.9,370.3C1833.2,368.5 1834.6,367.2 1835.9,367.2C1837.2,367.2 1838.6,367.8 1839.9,368.4C1842.1,369.4 1844.3,373.2 1846.5,375.4C1848.7,377.6 1851.0,379.7 1853.2,381.6C1855.2,383.4 1857.2,384.1 1859.2,386.6C1860.5,388.3 1861.9,394.1 1863.2,395.5C1865.2,397.5 1867.2,397.1 1869.2,399.2C1870.3,400.4 1871.4,404.9 1872.5,408.0C1873.6,411.1 1874.7,414.6 1875.8,418.0C1876.9,421.3 1878.0,423.4 1879.1,428.1C1880.0,431.9 1880.9,437.8 1881.8,445.6C1882.5,451.4 1883.1,462.3 1883.8,470.6C1884.5,479.0 1885.1,485.5 1885.8,495.8C1886.2,502.5 1886.7,511.5 1887.1,520.9C1887.7,534.5 1888.4,553.9 1889.0,568.2C1889.6,581.8 1890.2,596.6 1890.8,605.6C1891.7,619.2 1892.6,636.5 1893.5,636.5C1894.7,636.5 1896.0,619.6 1897.2,605.6C1898.0,597.0 1898.7,580.7 1899.5,568.2C1900.5,552.5 1901.4,536.3 1902.4,520.9C1903.1,510.2 1903.7,499.9 1904.4,489.5C1905.1,479.0 1905.7,466.0 1906.4,458.1C1907.3,447.5 1908.2,440.2 1909.1,433.1C1910.0,425.9 1910.9,417.6 1911.8,414.2C1913.1,409.2 1914.5,405.5 1915.8,404.2C1918.0,402.1 1920.2,402.6 1922.4,400.5C1923.7,399.2 1925.1,393.5 1926.4,390.4C1928.2,386.3 1929.9,382.4 1931.7,379.2C1933.0,376.8 1934.4,374.0 1935.7,372.9C1937.3,371.6 1938.8,370.3 1940.4,370.3C1941.9,370.3 1943.5,371.4 1945.0,372.9C1946.1,374.0 1947.3,377.9 1948.4,382.9C1949.1,385.8 1949.7,394.0 1950.4,397.9C1951.3,403.1 1952.1,410.5 1953.0,410.5C1953.9,410.5 1954.8,406.4 1955.7,402.9C1956.6,399.4 1957.5,389.7 1958.4,385.4C1959.3,381.2 1960.1,377.0 1961.0,375.4C1962.1,373.4 1963.2,371.6 1964.3,371.6C1965.2,371.6 1966.1,380.4 1967.0,380.4C1968.1,380.4 1969.2,377.5 1970.3,376.6C1971.6,375.5 1973.0,375.4 1974.3,374.1C1975.6,372.8 1977.0,367.8 1978.3,366.6C1980.1,364.9 1981.8,363.7 1983.6,363.4C1986.3,363.0 1988.9,363.2 1991.6,362.8C1992.9,362.6 1994.3,360.9 1995.6,360.9C1998.4,360.9 2001.2,361.5 2004.0,361.8" stroke="#c000cc"/>
<path d="M210.0,183.6C233.3,183.6 256.7,183.6 280.0,183.6C284.0,183.6 288.0,184.2 292.0,184.6C294.7,184.8 297.3,185.3 300.0,185.3C302.7,185.3 305.3,184.9 308.0,184.6C310.7,184.3 313.3,183.6 316.0,183.6C342.3,183.6 368.7,183.6 395.0,183.6C397.3,183.6 399.7,184.0 402.0,184.4C404.0,184.7 406.0,185.5 408.0,185.5C410.0,185.5 412.0,184.3 414.0,184.1C416.0,183.8 418.0,183.6 420.0,183.6C441.7,183.6 463.3,183.6 485.0,183.6C487.7,183.6 490.3,184.5 493.0,184.9C495.3,185.2 497.7,185.7 500.0,185.7C502.7,185.7 505.3,185.3 508.0,185.1C511.3,184.7 514.7,183.6 518.0,183.6C542.0,183.6 566.0,183.6 590.0,183.6C603.3,183.6 616.7,184.5 630.0,185.1C640.0,185.5 650.0,186.1 660.0,186.5C670.0,186.9 680.0,187.3 690.0,187.5C693.8,187.6 697.5,187.6 701.3,187.7C706.6,187.8 712.0,188.6 717.3,189.2C722.6,189.8 728.0,189.9 733.3,191.3C735.4,191.8 737.6,194.3 739.7,197.0C741.5,199.2 743.2,202.5 745.0,207.3C746.4,211.2 747.9,217.7 749.3,225.9C750.4,232.0 751.4,241.1 752.5,251.7C753.2,258.6 753.9,270.6 754.6,277.6C755.1,282.9 755.7,291.3 756.2,291.3C757.1,291.3 757.9,275.4 758.8,267.2C759.9,257.1 760.9,243.4 762.0,236.2C763.1,229.0 764.1,221.9 765.2,219.7C766.3,217.5 767.3,215.7 768.4,215.5C770.2,215.2 772.0,215.3 773.8,215.0C775.2,214.8 776.6,210.7 778.0,210.4C779.4,210.1 780.9,209.9 782.3,209.9C783.7,209.9 785.1,211.9 786.5,211.9C788.3,211.9 790.1,210.3 791.9,209.3C793.7,208.3 795.4,207.0 797.2,205.7C800.0,203.7 802.9,200.6 805.7,199.0C809.3,197.0 812.8,195.6 816.4,194.4C820.7,192.9 824.9,191.2 829.2,190.8C832.7,190.5 836.3,190.5 839.8,190.2C843.4,189.9 846.9,189.0 850.5,188.6C855.8,188.1 861.2,187.5 866.5,187.3C871.0,187.1 875.5,187.0 880.0,187.0C936.7,187.0 993.3,187.0 1050.0,187.3C1053.3,187.3 1056.7,187.6 1060.0,187.8C1063.0,187.9 1066.0,188.4 1069.0,188.4C1072.7,188.4 1076.3,187.8 1080.0,187.5C1083.3,187.2 1086.7,186.8 1090.0,186.8C1095.0,186.7 1100.0,186.7 1105.0,186.7C1108.3,186.7 1111.7,187.5 1115.0,187.5C1136.7,187.5 1158.3,187.5 1180.0,187.5C1196.7,187.5 1213.3,188.0 1230.0,188.2C1240.0,188.3 1250.0,188.3 1260.0,188.4C1270.0,188.6 1280.0,189.2 1290.0,189.2C1296.7,189.2 1303.3,188.4 1310.0,188.4C1320.0,188.4 1330.0,188.5 1340.0,188.6C1347.5,188.7 1355.1,189.7 1362.6,190.3C1370.2,190.9 1377.7,191.7 1385.3,192.5C1388.3,192.9 1391.3,193.0 1394.3,193.6C1396.6,194.1 1398.8,195.7 1401.1,198.5C1402.2,200.0 1403.4,202.6 1404.5,208.4C1405.1,211.3 1405.6,222.2 1406.2,230.4C1406.8,238.5 1407.3,250.0 1407.9,257.8C1408.7,268.4 1409.4,277.2 1410.2,285.3C1410.6,289.8 1411.1,297.6 1411.5,297.6C1412.2,297.6 1412.9,282.5 1413.6,274.3C1414.3,265.7 1415.1,254.1 1415.8,246.8C1416.6,239.3 1417.3,232.8 1418.1,228.2C1418.9,223.6 1419.6,219.9 1420.4,217.2C1421.9,211.8 1423.4,208.0 1424.9,205.1C1426.4,202.3 1427.9,199.7 1429.4,198.5C1431.7,196.8 1433.9,196.1 1436.2,195.2C1439.0,194.1 1441.9,192.5 1444.7,192.5C1446.4,192.5 1448.1,195.1 1449.8,197.5C1450.9,199.1 1452.1,202.6 1453.2,205.1C1454.1,207.2 1455.1,211.1 1456.0,211.1C1456.9,211.1 1457.9,206.8 1458.8,205.1C1460.3,202.5 1461.9,199.9 1463.4,198.5C1465.6,196.5 1467.9,194.8 1470.1,194.2C1473.5,193.3 1476.9,192.5 1480.3,192.5C1483.0,192.5 1485.6,193.3 1488.3,194.2C1490.2,194.8 1492.0,197.0 1493.9,198.5C1495.2,199.6 1496.6,201.8 1497.9,201.8C1499.2,201.8 1500.5,198.5 1501.8,198.5C1503.3,198.5 1504.9,200.2 1506.4,200.2C1507.9,200.2 1509.4,196.3 1510.9,195.8C1512.8,195.2 1514.6,194.7 1516.5,194.7C1518.8,194.7 1521.0,196.9 1523.3,196.9C1525.2,196.9 1527.1,193.6 1529.0,193.6C1531.6,193.6 1534.3,194.0 1536.9,194.7C1538.8,195.1 1540.7,199.3 1542.6,200.8C1543.7,201.7 1544.9,201.8 1546.0,203.0C1547.2,204.2 1548.4,210.6 1549.6,211.8C1550.7,212.9 1551.7,213.9 1552.8,213.9C1554.6,213.9 1556.3,209.3 1558.1,207.7C1560.6,205.3 1563.1,202.0 1565.6,202.0C1567.2,202.0 1568.8,206.1 1570.4,208.7C1571.6,210.7 1572.9,215.6 1574.1,215.9C1575.5,216.3 1577.0,216.5 1578.4,216.5C1579.8,216.5 1581.2,213.9 1582.6,211.8C1583.7,210.2 1584.7,205.7 1585.8,204.6C1588.3,201.9 1590.8,201.8 1593.3,199.9C1595.1,198.5 1596.8,194.8 1598.6,194.8C1601.1,194.8 1603.6,198.0 1606.1,198.3C1608.2,198.7 1610.4,198.5 1612.5,198.9C1613.6,199.1 1614.6,201.5 1615.7,204.6C1616.4,206.5 1617.1,213.8 1617.8,217.0C1618.9,221.8 1619.9,226.2 1621.0,228.3C1621.7,229.7 1622.4,231.4 1623.1,231.4C1623.8,231.4 1624.5,225.4 1625.2,223.2C1626.1,220.3 1627.0,215.9 1627.9,215.9C1628.8,215.9 1629.7,218.4 1630.6,221.1C1631.5,223.8 1632.3,238.1 1633.2,240.7C1634.1,243.5 1635.0,245.9 1635.9,245.9C1636.8,245.9 1637.7,241.9 1638.6,237.6C1639.3,234.3 1640.0,218.6 1640.7,217.0C1641.4,215.4 1642.0,214.3 1642.7,214.3C1643.6,214.3 1644.4,219.4 1645.2,225.2C1645.9,229.8 1646.6,244.7 1647.2,256.3C1647.9,268.4 1648.6,284.4 1649.4,297.6C1649.7,304.7 1650.1,309.0 1650.5,318.2C1651.0,330.3 1651.5,357.5 1652.0,376.6C1652.5,394.7 1652.9,418.4 1653.4,430.0C1653.7,437.1 1654.0,446.5 1654.3,446.5C1654.7,446.5 1655.0,437.7 1655.4,430.0C1655.9,420.0 1656.3,393.1 1656.8,376.6C1657.4,355.6 1658.0,336.9 1658.6,318.2C1659.0,307.6 1659.3,295.5 1659.7,287.3C1660.2,274.5 1660.7,265.8 1661.3,256.3C1661.8,247.0 1662.3,235.2 1662.8,230.5C1663.6,222.6 1664.5,218.1 1665.3,214.9C1666.5,210.5 1667.7,206.8 1668.9,205.6C1670.3,204.2 1671.8,203.0 1673.2,203.0C1675.0,203.0 1676.7,204.7 1678.5,206.7C1679.9,208.3 1681.4,213.2 1682.8,218.0C1683.9,221.6 1684.9,229.3 1686.0,232.5C1687.1,235.7 1688.1,237.7 1689.2,239.7C1690.6,242.2 1692.0,243.3 1693.4,245.9C1694.8,248.5 1696.3,251.4 1697.7,256.3C1698.4,258.6 1699.1,262.6 1699.8,266.6C1700.5,270.9 1701.3,276.8 1702.0,282.1C1702.7,287.1 1703.4,294.3 1704.1,297.6C1704.8,300.9 1705.5,304.9 1706.2,304.9C1707.3,304.9 1708.3,303.0 1709.4,300.7C1710.5,298.4 1711.5,288.3 1712.6,282.1C1713.5,277.0 1714.3,268.9 1715.2,266.8C1716.1,264.6 1717.0,262.7 1717.9,262.7C1719.2,262.7 1720.4,268.4 1721.7,273.0C1722.6,276.5 1723.5,282.4 1724.4,288.0C1725.3,293.5 1726.2,299.7 1727.2,306.7C1727.9,312.3 1728.6,318.6 1729.4,325.4C1730.0,331.1 1730.6,337.6 1731.2,344.1C1731.7,350.1 1732.3,356.7 1732.8,363.0C1733.5,370.4 1734.1,377.4 1734.8,385.4C1735.4,393.0 1736.0,402.4 1736.7,409.7C1737.4,417.9 1738.1,425.3 1738.8,432.2C1739.4,438.2 1740.0,443.4 1740.6,449.1C1741.3,455.8 1742.1,463.2 1742.8,469.7C1743.4,475.6 1744.1,481.7 1744.8,486.5C1745.7,493.0 1746.5,499.3 1747.4,503.4C1748.5,508.2 1749.5,512.7 1750.5,514.7C1751.8,517.1 1753.0,519.5 1754.3,519.5C1755.6,519.5 1757.0,516.5 1758.3,512.7C1759.2,510.2 1760.1,501.8 1761.0,494.0C1761.8,486.9 1762.6,475.7 1763.4,465.9C1764.1,457.0 1764.9,447.7 1765.6,437.8C1766.3,429.0 1766.9,418.1 1767.6,409.7C1768.4,399.3 1769.2,389.3 1770.0,381.7C1771.0,372.7 1772.0,366.4 1772.9,359.2C1773.6,354.0 1774.3,349.1 1775.0,344.1C1775.5,340.9 1775.9,335.0 1776.4,334.4C1778.2,332.3 1780.0,333.1 1781.8,331.6C1783.4,330.4 1784.9,328.4 1786.4,323.8C1787.2,321.5 1788.0,313.5 1788.7,306.7C1789.3,301.5 1789.9,294.0 1790.5,288.0C1791.1,281.5 1791.7,274.2 1792.3,269.3C1793.3,261.5 1794.2,253.8 1795.2,250.5C1796.8,245.1 1798.3,242.7 1799.9,240.1C1801.5,237.4 1803.0,236.8 1804.6,233.7C1805.7,231.4 1806.8,224.9 1807.9,222.0C1809.0,219.0 1810.2,215.3 1811.3,214.9C1812.8,214.5 1814.4,214.3 1815.9,214.3C1817.2,214.3 1818.6,217.2 1819.9,219.4C1821.0,221.2 1822.1,226.0 1823.2,227.2C1824.1,228.1 1825.0,229.1 1825.9,229.1C1827.0,229.1 1828.1,225.1 1829.2,222.0C1830.1,219.5 1831.0,212.9 1831.9,211.6C1833.2,209.8 1834.6,208.4 1835.9,208.4C1837.2,208.4 1838.6,209.1 1839.9,209.7C1842.1,210.7 1844.3,214.6 1846.5,216.9C1848.7,219.1 1851.0,221.3 1853.2,223.3C1855.2,225.1 1857.2,225.8 1859.2,228.4C1860.5,230.1 1861.9,236.1 1863.2,237.5C1865.1,239.6 1867.1,239.2 1869.0,241.4C1870.0,242.6 1871.0,247.2 1872.1,250.4C1873.1,253.6 1874.1,257.3 1875.2,260.7C1876.2,264.2 1877.3,266.4 1878.3,271.1C1879.2,275.1 1880.1,281.2 1881.0,289.1C1881.7,295.2 1882.4,306.4 1883.1,314.9C1883.8,323.7 1884.5,330.3 1885.1,340.8C1885.6,347.8 1886.1,357.1 1886.5,366.6C1887.2,380.8 1887.9,400.8 1888.6,415.4C1889.2,429.5 1889.9,444.7 1890.5,453.9C1891.5,467.9 1892.5,485.8 1893.5,485.8C1894.9,485.8 1896.2,468.4 1897.6,453.9C1898.4,445.1 1899.2,428.4 1900.0,415.4C1901.1,399.4 1902.1,382.8 1903.1,366.6C1903.8,355.8 1904.5,345.2 1905.2,334.3C1905.8,323.7 1906.5,310.3 1907.2,302.0C1908.1,291.2 1908.9,283.7 1909.8,276.2C1910.7,268.9 1911.5,260.4 1912.4,256.8C1913.7,251.7 1914.9,247.9 1916.1,246.6C1918.2,244.3 1920.3,244.9 1922.4,242.7C1923.7,241.3 1925.1,235.5 1926.4,232.3C1928.2,228.1 1929.9,224.0 1931.7,220.8C1933.0,218.3 1934.4,215.4 1935.7,214.3C1937.3,212.9 1938.8,211.6 1940.4,211.6C1941.9,211.6 1943.5,212.7 1945.0,214.3C1946.1,215.4 1947.3,219.4 1948.4,224.5C1949.1,227.5 1949.7,236.0 1950.4,240.1C1951.3,245.4 1952.1,253.0 1953.0,253.0C1953.9,253.0 1954.8,248.8 1955.7,245.2C1956.6,241.6 1957.5,231.6 1958.4,227.2C1959.3,222.9 1960.1,218.5 1961.0,216.9C1962.1,214.8 1963.2,213.0 1964.3,213.0C1965.2,213.0 1966.1,222.0 1967.0,222.0C1968.1,222.0 1969.2,219.1 1970.3,218.1C1971.6,217.0 1973.0,216.8 1974.3,215.5C1975.6,214.2 1977.0,209.0 1978.3,207.8C1980.1,206.1 1981.8,204.8 1983.6,204.6C1986.3,204.1 1988.9,204.3 1991.6,203.9C1992.9,203.7 1994.3,201.9 1995.6,201.9C1998.4,201.9 2001.2,202.6 2004.0,202.9" stroke="#c0005c"/>
</g>
<g font-family="'Liberation Sans', Arial, sans-serif" font-weight="bold" fill="#000" style="font-kerning:none">
<text transform="translate(209.05,1366.80) scale(1.0,1.04)" font-size="75.3" text-anchor="middle" >4000</text>
<text transform="translate(472.91,1366.80) scale(1.0,1.04)" font-size="75.3" text-anchor="middle" >3500</text>
<text transform="translate(736.77,1366.80) scale(1.0,1.04)" font-size="75.3" text-anchor="middle" >3000</text>
<text transform="translate(1000.63,1366.80) scale(1.0,1.04)" font-size="75.3" text-anchor="middle" >2500</text>
<text transform="translate(1264.49,1366.80) scale(1.0,1.04)" font-size="75.3" text-anchor="middle" >2000</text>
<text transform="translate(1528.35,1366.80) scale(1.0,1.04)" font-size="75.3" text-anchor="middle" >1500</text>
<text transform="translate(1792.21,1366.80) scale(1.0,1.04)" font-size="75.3" text-anchor="middle" >1000</text>
<text transform="translate(0,1469.6) scale(1,1.02)" font-size="95.2" x="753.41" y="0">Wavenumber <tspan x="1373.96" textLength="165.57" lengthAdjust="spacingAndGlyphs">(cm</tspan><tspan x="1544.00" y="-33.82" font-size="48.3">−</tspan><tspan x="1574.69" y="-37.45" font-size="67.5">1</tspan><tspan x="1615.72" y="0" textLength="26.95" lengthAdjust="spacingAndGlyphs">)</tspan></text>
<text transform="translate(97.1,1000.0) rotate(-90) scale(1,1.02)" font-size="94.7" text-anchor="start">Transmittance</text>
<line x1="580" y1="853.7" x2="734.2" y2="853.7" stroke="#056205" stroke-width="8" stroke-linecap="round"/>
<text transform="translate(754.54,877.65) scale(1.0,1.04)" font-size="69.6" text-anchor="start" >PDMS−AE−5/1</text>
<line x1="580" y1="942.2" x2="734.2" y2="942.2" stroke="#ada000" stroke-width="8" stroke-linecap="round"/>
<text transform="translate(754.54,966.10) scale(1.0,1.04)" font-size="69.6" text-anchor="start" >PDMS−AE−10/1</text>
<line x1="580" y1="1030.6" x2="734.2" y2="1030.6" stroke="#c000cc" stroke-width="8" stroke-linecap="round"/>
<text transform="translate(754.54,1054.55) scale(1.0,1.04)" font-size="69.6" text-anchor="start" >PDMS−AE−20/1</text>
<line x1="580" y1="1119" x2="734.2" y2="1119" stroke="#c0005c" stroke-width="8" stroke-linecap="round"/>
<text transform="translate(754.54,1143.00) scale(1.0,1.04)" font-size="69.6" text-anchor="start" >PDMS−AE−30/1</text>
</g>
<g font-family="'Liberation Serif', 'Times New Roman', serif" font-weight="bold" fill="#ff00ff" style="font-kerning:none">
<text transform="translate(311.02,279.3) scale(1,1.02)" font-size="57.0">C<tspan font-weight="normal" dx="-1.98" textLength="37.05" lengthAdjust="spacingAndGlyphs">−</tspan><tspan dx="-2.92">H of Si</tspan><tspan font-weight="normal" dx="-1.98" textLength="37.05" lengthAdjust="spacingAndGlyphs">−</tspan><tspan dx="-2.92">Me</tspan></text>
<text transform="translate(769.42,324.3) scale(1,1.02)" font-size="57.0">C<tspan font-weight="normal" dx="-1.98" textLength="37.05" lengthAdjust="spacingAndGlyphs">−</tspan><tspan dx="-2.92">H of Si</tspan><tspan font-weight="normal" dx="-1.98" textLength="37.05" lengthAdjust="spacingAndGlyphs">−</tspan><tspan dx="-2.92">CH</tspan><tspan font-size="38.5" dx="-0.3" dy="14.02">2</tspan></text>
<text transform="translate(1159.02,299.9) scale(1,1.02)" font-size="57.0">C=O</text>
<text transform="translate(1456.32,321.1) scale(1,1.02)" font-size="57.0">C=C</text>
<text transform="translate(1512.47,125.3) scale(1,1.02)" font-size="57.0">Si<tspan font-weight="normal" dx="-1.98" textLength="37.05" lengthAdjust="spacingAndGlyphs">−</tspan><tspan dx="-2.92">Me</tspan></text>
<text transform="translate(1692.47,183.9) scale(1,1.02)" font-size="57.0">Si<tspan font-weight="normal" dx="-1.98" textLength="37.05" lengthAdjust="spacingAndGlyphs">−</tspan><tspan dx="-2.92">O</tspan><tspan font-weight="normal" dx="-1.98" textLength="37.05" lengthAdjust="spacingAndGlyphs">−</tspan><tspan dx="-2.92">Si</tspan></text>
</g>
<line x1="662.1" y1="259.3" x2="718.6" y2="270.3" stroke="#ff00ff" stroke-width="2.6"/><polygon points="755.9,277.6 716.7,279.9 720.5,260.8" fill="#ff00ff"/>
<line x1="912.1" y1="279.3" x2="824.1" y2="237.6" stroke="#ff00ff" stroke-width="2.6"/><polygon points="789.7,221.4 828.2,228.8 819.9,246.5" fill="#ff00ff"/>
<line x1="1282.4" y1="280.1" x2="1350.8" y2="266.4" stroke="#ff00ff" stroke-width="2.6"/><polygon points="1388.1,259.0 1352.7,276.0 1348.9,256.9" fill="#ff00ff"/>
<line x1="1506.8" y1="282.9" x2="1477.7" y2="242.9" stroke="#ff00ff" stroke-width="2.6"/><polygon points="1455.4,212.2 1485.6,237.2 1469.9,248.7" fill="#ff00ff"/>
<line x1="1547.2" y1="139.3" x2="1549.8" y2="175.1" stroke="#ff00ff" stroke-width="2.6"/><polygon points="1552.5,213.0 1540.0,175.8 1559.5,174.4" fill="#ff00ff"/>
<line x1="1573.6" y1="135.9" x2="1575.6" y2="171.9" stroke="#ff00ff" stroke-width="2.6"/><polygon points="1577.8,209.8 1565.9,172.4 1585.4,171.3" fill="#ff00ff"/>
<line x1="1598.7" y1="135.9" x2="1638.4" y2="202.5" stroke="#ff00ff" stroke-width="2.6"/><polygon points="1657.8,235.2 1630.0,207.5 1646.7,197.6" fill="#ff00ff"/>
<line x1="1760.5" y1="203.3" x2="1755.0" y2="402.0" stroke="#ff00ff" stroke-width="2.6"/><polygon points="1754.0,440.0 1745.3,401.7 1764.8,402.3" fill="#ff00ff"/>
</svg>
</body></html>
